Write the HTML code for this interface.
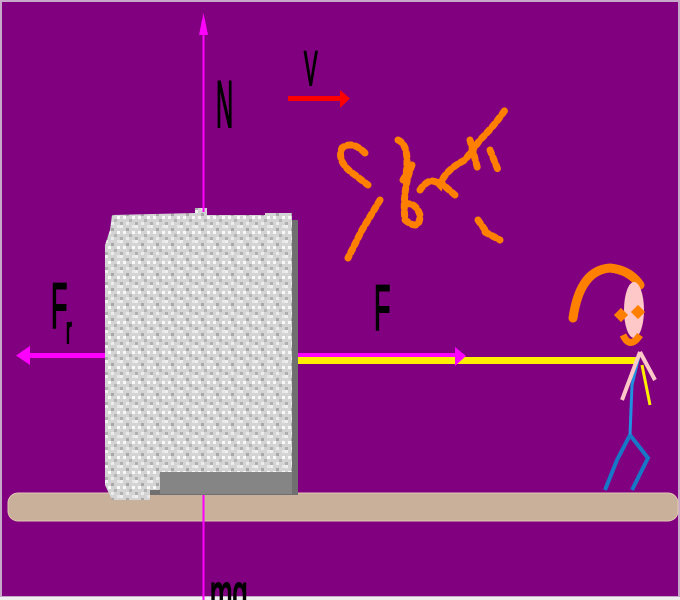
<!DOCTYPE html>
<html><head><meta charset="utf-8"><style>
html,body{margin:0;padding:0;background:#fff}
svg{display:block}
text{font-family:"Liberation Sans",sans-serif;fill:#000;stroke:#000;stroke-width:2}
</style></head><body>
<svg width="680" height="600" viewBox="0 0 680 600">
<defs>
<pattern id="noise" width="15" height="15" patternUnits="userSpaceOnUse">
<rect width="15" height="15" fill="#d4d4d4"/>
<rect x="0" y="0" width="3" height="3" fill="#f0f0f0"/><rect x="6" y="3" width="3" height="3" fill="#a8a8a8"/>
<rect x="3" y="6" width="3" height="3" fill="#f8f8f8"/><rect x="9" y="9" width="3" height="3" fill="#b4b4b4"/>
<rect x="12" y="0" width="3" height="3" fill="#e8e8e8"/><rect x="0" y="12" width="3" height="3" fill="#b0b0b0"/>
<rect x="12" y="6" width="3" height="3" fill="#fafafa"/><rect x="6" y="12" width="3" height="3" fill="#ececec"/>
</pattern>
</defs>
<rect x="0" y="0" width="680" height="600" fill="#c8a8c8"/>
<rect x="2" y="2" width="676" height="594" fill="#800080"/>
<rect x="0" y="597" width="680" height="3" fill="#eee"/>
<rect x="8" y="493" width="670" height="28" rx="10" fill="#c8b09a" stroke="#e0c8b0"/>
<g>
<rect x="118" y="220" width="180" height="275" fill="#707070"/>
<path d="M110 230 L112 215 L195 213 L195 208 L207 208 L207 215 L265 215 L265 213 L292 213 L292 480 L160 480 L160 490 L150 490 L150 500 L112 500 L105 485 L105 245 Z" fill="url(#noise)"/>
<rect x="160" y="472" width="132" height="22" fill="#858585"/>
</g>
<line x1="203.5" y1="22" x2="203.5" y2="212" stroke="#ff00ff" stroke-width="2"/>
<polygon points="203.5,13 199,35 208,35" fill="#ff00ff"/>
<line x1="203.5" y1="495" x2="203.5" y2="600" stroke="#ff00ff" stroke-width="2"/>
<text x="0" y="0" font-size="66" transform="translate(216,127) scale(0.36,1)">N</text>
<text x="0" y="0" font-size="48" transform="translate(304,85) scale(0.42,1)">V</text>
<text x="0" y="0" font-size="64" transform="translate(51,328) scale(0.42,1)">F</text>
<text x="0" y="0" font-size="38" transform="translate(66,343) scale(0.45,1)">r</text>
<text x="0" y="0" font-size="64" transform="translate(374,330) scale(0.42,1)">F</text>
<text x="0" y="0" font-size="54" transform="translate(210,612) scale(0.5,1)">mg</text>
<g>
<rect x="288" y="96" width="52" height="5" fill="#ff0000"/>
<polygon points="340,90 350,98.5 340,108" fill="#ff0000"/>
</g>
<g>
<rect x="26" y="353" width="79" height="5" fill="#ff00ff"/>
<polygon points="16,355.5 30,346 30,365" fill="#ff00ff"/>
</g>
<g>
<rect x="298" y="357" width="340" height="7" fill="#ffee00"/>
<rect x="298" y="353" width="160" height="4" fill="#ff00ff"/>
<polygon points="455,347 466,356 455,366" fill="#ff00ff"/>
</g>
<g fill="none" stroke="#ff8000" stroke-width="7" stroke-linecap="round" stroke-dasharray="4 4">
<path d="M365 153 Q352 140 342 148 Q336 162 355 175 L368 185"/>
<path d="M398 140 Q410 145 406 175 L403 180"/>
<path d="M380 200 L362 230 L348 258"/>
<path d="M412 165 Q402 190 405 220 Q420 232 420 215 Q415 200 402 205"/>
<path d="M420 190 Q430 175 440 185 Q445 170 465 160 L480 140 Q495 125 505 110"/>
<path d="M470 140 L478 170 M490 150 L498 170 M478 220 L485 230 M485 232 L500 240"/>
<path d="M440 182 L455 195"/>
</g>
<g>
<path d="M573 318 Q580 270 610 268 Q630 270 640 285" fill="none" stroke="#ff8000" stroke-width="9" stroke-linecap="round"/>
<ellipse cx="634" cy="310" rx="10" ry="28" fill="#ffc8c8"/>
<rect x="616" y="310" width="10" height="10" fill="#ff8000" transform="rotate(45 621 315)"/>
<rect x="633" y="307" width="10" height="10" fill="#ff8000" transform="rotate(45 638 312)"/>
<path d="M623 335 Q630 350 640 335" fill="none" stroke="#ff8000" stroke-width="7"/>
<path d="M640 352 L632 385 L630 435" fill="none" stroke="#2090e0" stroke-width="3"/>
<path d="M640 352 L622 400" fill="none" stroke="#ffc8c8" stroke-width="4"/>
<path d="M640 352 L655 380" fill="none" stroke="#ffc8c8" stroke-width="4"/>
<path d="M642 365 L650 405" fill="none" stroke="#ffee00" stroke-width="3"/>
<path d="M630 435 L617 460 L605 490 M630 435 L648 458 L632 490" fill="none" stroke="#1878c8" stroke-width="4"/>
</g>
</svg>
</body></html>
